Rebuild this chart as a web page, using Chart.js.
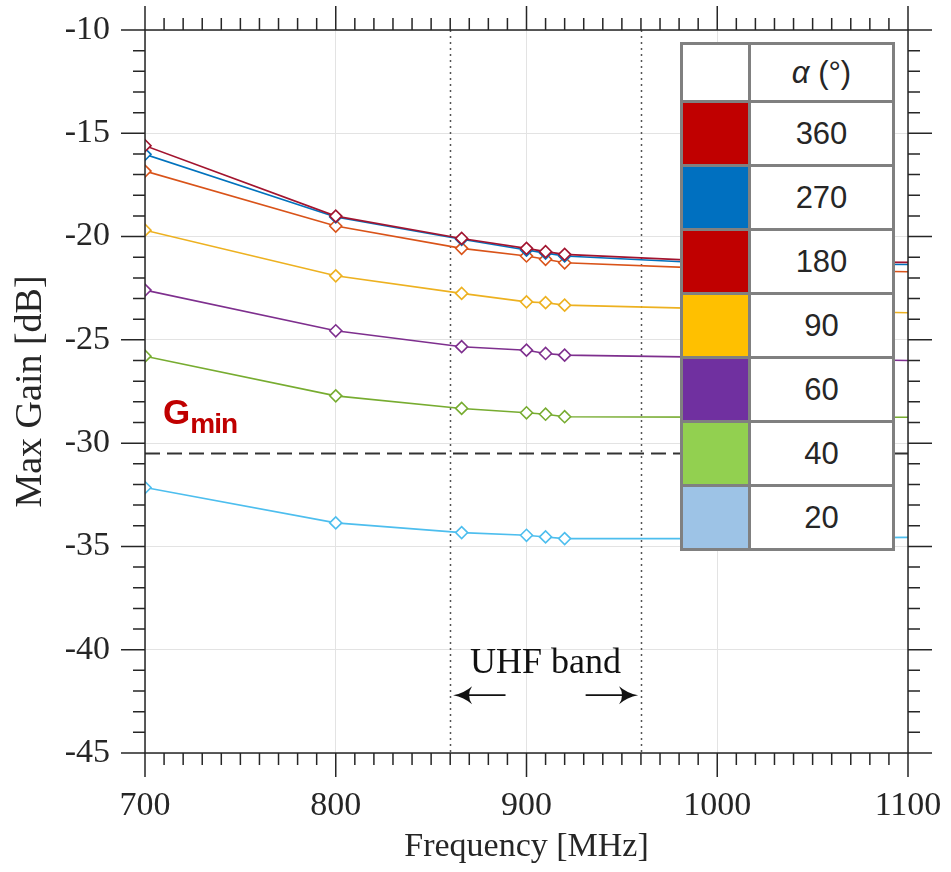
<!DOCTYPE html>
<html>
<head>
<meta charset="utf-8">
<title>Max Gain vs Frequency</title>
<script src="https://cdn.jsdelivr.net/npm/chart.js@4.4.1/dist/chart.umd.min.js"></script>
<style>
    html, body { margin: 0; padding: 0; background: #fff; }
    #wrap { position: relative; width: 951px; height: 872px; }
    #chart { position: absolute; left: 0; top: 0; }
    #legendTable {
        position: absolute; left: 680px; top: 42px;
        border-collapse: collapse; background: #fff;
        font-family: 'Liberation Sans', Arial, sans-serif; font-size: 31px; color: #262626;
    }
    #legendTable td { border: 3px solid #808080; padding: 0; text-align: center; }
    #legendTable td.sw { width: 65px; }
    #legendTable td.lab { width: 141px; }
    #legendTable tr { height: 64px; }
    #legendTable tr.head { height: 58px; }
    #gmin {
        position: absolute; left: 163px; top: 394px; line-height: 35px;
        font-family: 'Liberation Sans', Arial, sans-serif; font-weight: bold;
        font-size: 35px; color: #C00000; white-space: nowrap;
    }
    #gmin span { position: relative; top: 9px; font-size: 28px; letter-spacing: -1px; }
</style>
</head>
<body>
<div id="wrap">
    <canvas id="chart" width="951" height="872"></canvas>
    <div id="gmin">G<span>min</span></div>
    <table id="legendTable"></table>
</div>
<script>
// frequency points (MHz)
const freqs = [700, 800, 866, 900, 910, 920, 1000, 1100];

// max gain per opening angle alpha (dB)
const gain360 = [-15.60, -19.01, -20.09, -20.57, -20.73, -20.86, -21.20, -21.25];
const gain270 = [-16.02, -19.05, -20.13, -20.65, -20.80, -20.94, -21.30, -21.35];
const gain180 = [-16.83, -19.49, -20.57, -20.94, -21.10, -21.27, -21.55, -21.70];
const gain90  = [-19.69, -21.90, -22.75, -23.16, -23.20, -23.32, -23.50, -23.69];
const gain60  = [-22.59, -24.56, -25.33, -25.50, -25.66, -25.74, -25.85, -26.00];
const gain40  = [-25.79, -27.71, -28.32, -28.53, -28.60, -28.72, -28.74, -28.75];
const gain20  = [-32.15, -33.86, -34.33, -34.46, -34.54, -34.62, -34.62, -34.56];

const alphaLabels = ['360', '270', '180', '90', '60', '40', '20'];
const lineColors = ['#A2142F', '#0072BD', '#D95319', '#EDB120', '#7E2F8E', '#77AC30', '#4DBEEE'];
const swatchColors = ['#C00000', '#0070C0', '#C00000', '#FFC000', '#7030A0', '#92D050', '#9DC3E6'];

// reference lines
const gMin = -30.5;
const uhfBand = [860, 960];
const uhfText = 'UHF band';

const allGains = [gain360, gain270, gain180, gain90, gain60, gain40, gain20];

// legend table
const table = document.getElementById('legendTable');
table.innerHTML = '<tr class="head"><td class="sw"></td><td class="lab"><i>α</i> (°)</td></tr>';
alphaLabels.forEach((lab, i) => {
    const tr = document.createElement('tr');
    tr.innerHTML = `<td class="sw" style="background:${swatchColors[i]}"></td><td class="lab">${lab}</td>`;
    table.appendChild(tr);
});

// box, minor/major ticks, UHF band markers and Gmin line
const framePlugin = {
    id: 'frame',
    beforeDatasetsDraw(chart) {
        const {ctx, chartArea: a, scales: {x, y}} = chart;
        ctx.save();
        // UHF band limits
        ctx.strokeStyle = '#555';
        ctx.lineWidth = 1.5;
        ctx.setLineDash([2, 4]);
        uhfBand.forEach(f => {
            const px = Math.round(x.getPixelForValue(f)) + 0.5;
            ctx.beginPath();
            ctx.moveTo(px, a.top);
            ctx.lineTo(px, a.bottom);
            ctx.stroke();
        });
        // Gmin
        ctx.strokeStyle = '#333';
        ctx.lineWidth = 2;
        ctx.setLineDash([15, 7]);
        const gy = y.getPixelForValue(gMin);
        ctx.beginPath();
        ctx.moveTo(a.left, gy);
        ctx.lineTo(a.right, gy);
        ctx.stroke();
        ctx.restore();
    },
    afterDatasetsDraw(chart) {
        const {ctx, chartArea: a, scales: {x, y}} = chart;
        ctx.save();
        ctx.strokeStyle = '#262626';
        ctx.lineWidth = 1.5;
        ctx.strokeRect(a.left, a.top, a.right - a.left, a.bottom - a.top);

        ctx.beginPath();
        for (let f = 700; f <= 1100; f += 10) {
            const px = x.getPixelForValue(f);
            const len = f % 100 === 0 ? 24 : 12;
            ctx.moveTo(px, a.bottom); ctx.lineTo(px, a.bottom + len);
            ctx.moveTo(px, a.top); ctx.lineTo(px, a.top - len);
        }
        for (let g = -45; g <= -10; g += 1) {
            const py = y.getPixelForValue(g);
            const len = g % 5 === 0 ? 24 : 12;
            ctx.moveTo(a.left, py); ctx.lineTo(a.left - len, py);
            ctx.moveTo(a.right, py); ctx.lineTo(a.right + len, py);
        }
        ctx.stroke();

        // UHF band label and arrows
        ctx.fillStyle = '#111';
        ctx.font = '36px "Liberation Serif", serif';
        ctx.textAlign = 'center';
        ctx.textBaseline = 'alphabetic';
        const mid = (uhfBand[0] + uhfBand[1]) / 2;
        ctx.fillText(uhfText, x.getPixelForValue(mid), y.getPixelForValue(-41.12));

        const ay = y.getPixelForValue(-42.2);
        drawArrow(ctx, x.getPixelForValue(889), x.getPixelForValue(uhfBand[0] + 1.5), ay);
        drawArrow(ctx, x.getPixelForValue(931), x.getPixelForValue(uhfBand[1] - 1.5), ay);
        ctx.restore();
    }
};

function drawArrow(ctx, fromX, toX, py) {
    const dir = toX > fromX ? 1 : -1;
    ctx.strokeStyle = '#111';
    ctx.fillStyle = '#111';
    ctx.lineWidth = 1.6;
    ctx.beginPath();
    ctx.moveTo(fromX, py);
    ctx.lineTo(toX - dir * 6, py);
    ctx.stroke();
    ctx.beginPath();
    ctx.moveTo(toX, py);
    ctx.quadraticCurveTo(toX - dir * 11, py - 2, toX - dir * 19, py - 9);
    ctx.quadraticCurveTo(toX - dir * 13, py, toX - dir * 19, py + 9);
    ctx.quadraticCurveTo(toX - dir * 11, py + 2, toX, py);
    ctx.fill();
}

// keep the plot box fixed: no automatic label padding
function fixBox(size, prop) {
    return s => {
        s[prop] = size;
        s.paddingTop = 0; s.paddingBottom = 0; s.paddingLeft = 0; s.paddingRight = 0;
    };
}

const serif = '"Liberation Serif", "Times New Roman", serif';

const datasets = allGains.map((g, i) => ({
    label: alphaLabels[i],
    data: freqs.map((f, j) => ({x: f, y: g[j]})),
    borderColor: lineColors[i],
    backgroundColor: '#fff',
    borderWidth: 1.6,
    pointStyle: 'rectRot',
    pointRadius: ctx => ctx.dataIndex === freqs.length - 1 ? 0 : 6,
    pointBorderWidth: 1.6,
    pointBackgroundColor: '#fff',
    pointBorderColor: lineColors[i],
    tension: 0
}));

new Chart(document.getElementById('chart'), {
    type: 'line',
    data: { datasets: datasets },
    options: {
        responsive: false,
        animation: false,
        layout: { padding: { left: 0, top: 30, right: 43, bottom: 0 } },
        plugins: { legend: { display: false }, tooltip: { enabled: false } },
        scales: {
            x: {
                type: 'linear',
                min: 700,
                max: 1100,
                afterFit: fixBox(119, 'height'),
                ticks: {
                    stepSize: 100,
                    padding: 33,
                    color: '#262626',
                    font: { family: serif, size: 34 },
                    callback: v => String(v)
                },
                grid: { color: '#e3e3e3', drawTicks: false, lineWidth: 1 },
                border: { display: false },
                title: {
                    display: true,
                    text: 'Frequency [MHz]',
                    color: '#262626',
                    font: { family: serif, size: 34 },
                    padding: { top: 0, bottom: 5 }
                }
            },
            y: {
                type: 'linear',
                min: -45,
                max: -10,
                afterFit: fixBox(145, 'width'),
                ticks: {
                    stepSize: 5,
                    padding: 35,
                    color: '#262626',
                    font: { family: serif, size: 34 }
                },
                grid: { color: '#e3e3e3', drawTicks: false, lineWidth: 1 },
                border: { display: false },
                title: {
                    display: true,
                    text: 'Max Gain [dB]',
                    color: '#262626',
                    font: { family: serif, size: 38 },
                    padding: { top: 8, bottom: 0 }
                }
            }
        }
    },
    plugins: [framePlugin]
});
</script>
</body>
</html>
